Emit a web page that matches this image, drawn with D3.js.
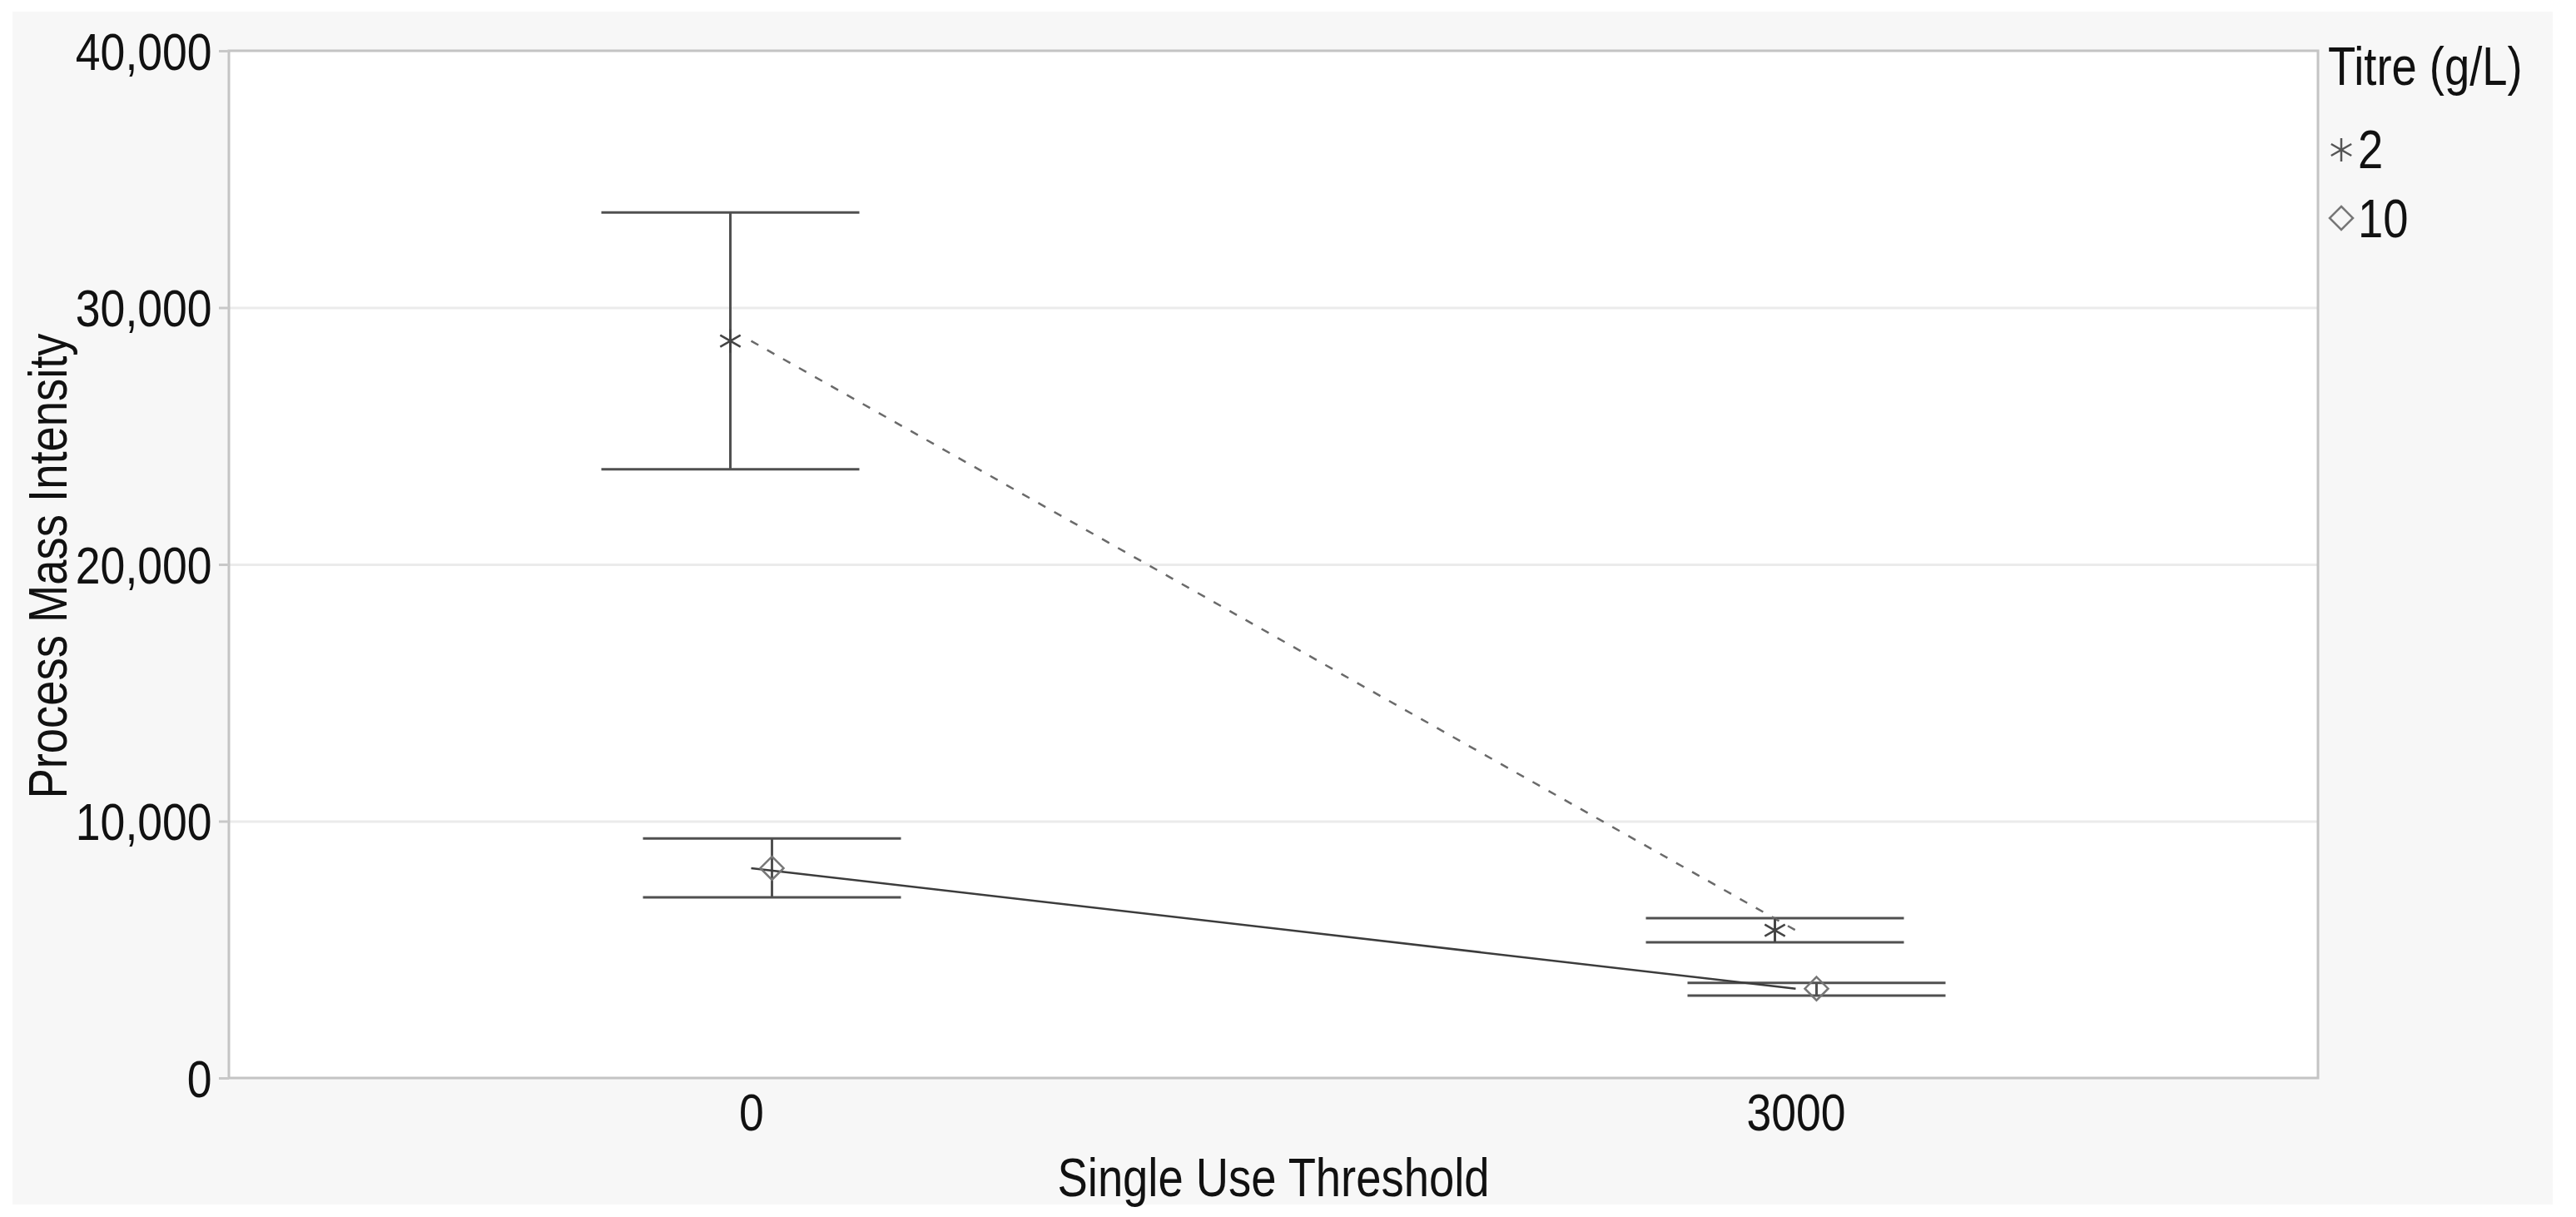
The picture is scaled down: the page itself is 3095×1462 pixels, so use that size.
<!doctype html>
<html>
<head>
<meta charset="utf-8">
<style>
  body { margin: 0; background: #fff; }
  text { font-family: "Liberation Sans", Arial, sans-serif; fill: #111; }
  .axis .domain { display: none; }
</style>
</head>
<body>
<svg width="3095" height="1462"></svg>
<script src="https://cdn.jsdelivr.net/npm/d3@7"></script>
<script>
// values
var categories = ["0", "3000"];
var titres = ["2", "10"];
var mean2 = [28700, 5750];
var low2 = [23700, 5280];
var high2 = [33700, 6220];
var mean10 = [8170, 3480];
var low10 = [7030, 3210];
var high10 = [9330, 3700];
var yTicks = [0, 10000, 20000, 30000, 40000];

var svg = d3.select("svg"),
    margin = {top: 61, right: 310, bottom: 167, left: 275},
    width = +svg.attr("width") - margin.left - margin.right,
    height = +svg.attr("height") - margin.top - margin.bottom;

var squeeze = "scale(0.85,1)";

// grey panel behind everything
svg.append("rect")
    .attr("x", 15).attr("y", 14)
    .attr("width", 3052).attr("height", 1433)
    .attr("fill", "#f7f7f7");

var g = svg.append("g").attr("transform", "translate(" + margin.left + "," + margin.top + ")");

g.append("rect")
    .attr("width", width).attr("height", height)
    .attr("fill", "#fff");

var x = d3.scalePoint().domain(categories).range([0, width]).padding(0.5);
var dodge = d3.scalePoint().domain(titres).range([-25, 25]);
var y = d3.scaleLinear().domain([0, 40000]).range([height, 0]);

// grid
g.append("g")
    .attr("class", "axis")
    .call(d3.axisLeft(y).tickValues([10000, 20000, 30000]).tickSize(-width).tickFormat(""))
  .selectAll("line")
    .attr("stroke", "#ebebeb")
    .attr("stroke-width", 3);

// frame
g.append("path")
    .attr("d", "M0," + height + "V0H" + width + "V" + height + "H0")
    .attr("fill", "none")
    .attr("stroke", "#c4c4c4")
    .attr("stroke-width", 3);

// y axis
var yAxis = g.append("g")
    .attr("class", "axis")
    .call(d3.axisLeft(y).tickValues(yTicks).tickFormat(d3.format(",")).tickSize(12).tickPadding(12));
yAxis.selectAll("line").attr("stroke", "#c8c8c8").attr("stroke-width", 3);
yAxis.selectAll("text")
    .attr("transform", squeeze)
    .attr("dy", "0.35em")
    .style("font-size", "63px")
    .style("fill", "#111");

// x axis
var xAxis = g.append("g")
    .attr("class", "axis")
    .attr("transform", "translate(0," + height + ")")
    .call(d3.axisBottom(x).tickSize(0).tickPadding(18));
xAxis.selectAll("text")
    .attr("transform", squeeze)
    .style("font-size", "63px")
    .style("fill", "#111");

// axis titles
svg.append("text")
    .attr("transform", "translate(80,680) rotate(-90) " + squeeze)
    .attr("text-anchor", "middle")
    .style("font-size", "64px")
    .text("Process Mass Intensity");

svg.append("text")
    .attr("transform", "translate(" + (margin.left + width / 2) + ",1437) " + squeeze)
    .attr("text-anchor", "middle")
    .style("font-size", "64px")
    .text("Single Use Threshold");

var series = [
  {key: "2", mean: mean2, low: low2, high: high2},
  {key: "10", mean: mean10, low: low10, high: high10}
];

// error bars
series.forEach(function(s) {
  categories.forEach(function(c, i) {
    var cx = x(c) + dodge(s.key);
    var bar = g.append("g").attr("stroke", "#505050").attr("stroke-width", 3);
    bar.append("line")
        .attr("x1", cx).attr("x2", cx)
        .attr("y1", y(s.low[i])).attr("y2", y(s.high[i]));
    [s.low[i], s.high[i]].forEach(function(v) {
      bar.append("line")
          .attr("x1", cx - 155).attr("x2", cx + 155)
          .attr("y1", y(v)).attr("y2", y(v));
    });
  });
});

// connecting lines through the category centres
var line = d3.line()
    .x(function(d, i) { return x(categories[i]); })
    .y(function(d) { return y(d); });

g.append("path")
    .datum(mean2)
    .attr("fill", "none")
    .attr("stroke", "#6a6a6a")
    .attr("stroke-width", 2.5)
    .attr("stroke-dasharray", "10,12")
    .attr("d", line);

g.append("path")
    .datum(mean10)
    .attr("fill", "none")
    .attr("stroke", "#3c3c3c")
    .attr("stroke-width", 2.5)
    .attr("d", line);

// markers
var star = d3.symbol().type(d3.symbolAsterisk).size(560);
var diamond = d3.symbol().type(d3.symbolDiamond2).size(500);

categories.forEach(function(c, i) {
  g.append("path")
      .attr("transform", "translate(" + (x(c) + dodge("2")) + "," + y(mean2[i]) + ")")
      .attr("d", star)
      .attr("fill", "none")
      .attr("stroke", "#444")
      .attr("stroke-width", 2.5);
  g.append("path")
      .attr("transform", "translate(" + (x(c) + dodge("10")) + "," + y(mean10[i]) + ")")
      .attr("d", diamond)
      .attr("fill", "none")
      .attr("stroke", "#777")
      .attr("stroke-width", 2.5);
});

// legend
var legend = svg.append("g").attr("transform", "translate(2797,0)");
legend.append("text")
    .attr("transform", "translate(0,102) " + squeeze)
    .style("font-size", "64px")
    .text("Titre (g/L)");

legend.append("path")
    .attr("transform", "translate(16,180)")
    .attr("d", star)
    .attr("fill", "none")
    .attr("stroke", "#555")
    .attr("stroke-width", 2.5);
legend.append("text")
    .attr("transform", "translate(36,202) " + squeeze)
    .style("font-size", "64px")
    .text(titres[0]);

legend.append("path")
    .attr("transform", "translate(16,262)")
    .attr("d", diamond)
    .attr("fill", "none")
    .attr("stroke", "#777")
    .attr("stroke-width", 2.5);
legend.append("text")
    .attr("transform", "translate(36,285) " + squeeze)
    .style("font-size", "64px")
    .text(titres[1]);
</script>
</body>
</html>
